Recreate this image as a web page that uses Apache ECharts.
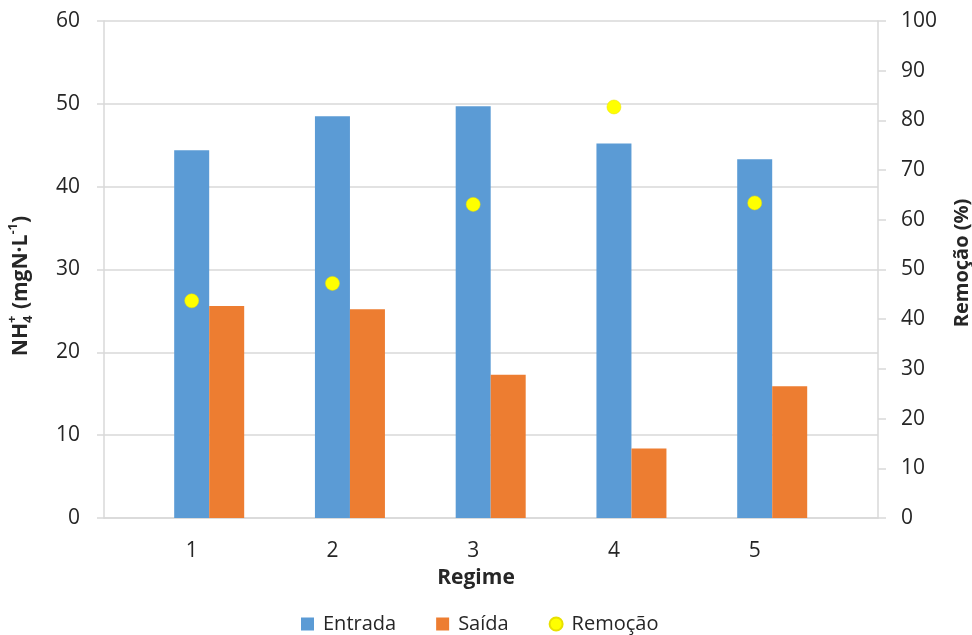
<!DOCTYPE html>
<html>
<head>
<meta charset="utf-8">
<script src="https://cdn.jsdelivr.net/npm/echarts@6/dist/echarts.min.js"></script>
<style>
  html, body { margin: 0; padding: 0; background: #fff; }
  #chart { width: 972px; height: 635px; }
</style>
</head>
<body>
<div id="chart"></div>
<script>
// Ammonium in / out per operating regime, with removal efficiency
const categories = ['1', '2', '3', '4', '5'];
const entrada = [44.4, 48.5, 49.7, 45.2, 43.3];   // mgN·L-1
const saida   = [25.6, 25.2, 17.3, 8.4, 15.9];    // mgN·L-1
const remocao = [43.7, 47.2, 63.1, 82.7, 63.4];   // %
const leftAxis  = { min: 0, max: 60, step: 10 };
const rightAxis = { min: 0, max: 100, step: 10 };

const FONT = '"Open Sans", "DejaVu Sans", sans-serif';
const TEXT = '#262626';
const LINE = '#D9D9D9';

const xs = categories.map(Number);
const pairs = (vals) => xs.map((x, i) => [x, vals[i]]);

// measure helper for the composed y-axis title
const mctx = document.createElement('canvas').getContext('2d');
function textWidth(t, font) { mctx.font = font; return mctx.measureText(t).width; }

function buildLeftTitle() {
  const big = 'bold 21px ' + FONT;
  const small = 'bold 13px ' + FONT;
  const parts = [
    { t: 'NH', f: big, dy: 0 },
    { t: '4', f: small, dy: 7, stack: true },
    { t: '+', f: small, dy: -9 },
    { t: ' (mgN·L', f: big, dy: 0 },
    { t: '-1', f: small, dy: -8 },
    { t: ')', f: big, dy: 0 }
  ];
  // lay pieces out along the baseline; a stacked piece shares its x with the next one
  let cursor = 0;
  const placed = [];
  for (let i = 0; i < parts.length; i++) {
    const p = parts[i];
    const w = textWidth(p.t, p.f);
    placed.push({ p, x: cursor });
    if (p.stack) {
      const n = parts[i + 1];
      const wn = textWidth(n.t, n.f);
      placed.push({ p: n, x: cursor });
      cursor += Math.max(w, wn) + 1;
      i++;
    } else {
      cursor += w;
    }
  }
  const total = cursor;
  return {
    type: 'group',
    x: 21, y: 286,
    rotation: Math.PI / 2,
    children: placed.map(({ p, x }) => ({
      type: 'text',
      x: x - total / 2,
      y: p.dy,
      style: { text: p.t, font: p.f, fill: TEXT, align: 'left', verticalAlign: 'middle' }
    }))
  };
}

const chart = echarts.init(document.getElementById('chart'), null, { renderer: 'canvas' });

chart.setOption({
  animation: false,
  backgroundColor: '#fff',
  grid: { left: 104, right: 94, top: 21, bottom: 117, containLabel: false },
  xAxis: {
    type: 'value',
    min: 0.377,
    max: 5.876,
    axisLine: { show: true, lineStyle: { color: LINE, width: 1.5 } },
    axisTick: { show: false },
    splitLine: { show: false },
    axisLabel: {
      customValues: xs,
      formatter: (v) => categories[xs.indexOf(v)] ?? '',
      fontFamily: FONT, fontSize: 21, color: TEXT, margin: 23
    }
  },
  yAxis: [
    {
      type: 'value',
      position: 'left',
      min: leftAxis.min, max: leftAxis.max, interval: leftAxis.step,
      axisLine: { show: true, lineStyle: { color: LINE, width: 1.5 } },
      axisTick: { show: true, inside: false, length: 7, lineStyle: { color: LINE, width: 1.5 } },
      splitLine: { show: true, lineStyle: { color: LINE, width: 1.5 } },
      axisLabel: { fontFamily: FONT, fontSize: 21, color: TEXT, margin: 24 }
    },
    {
      type: 'value',
      position: 'right',
      min: rightAxis.min, max: rightAxis.max, interval: rightAxis.step,
      axisLine: { show: true, lineStyle: { color: LINE, width: 1.5 } },
      axisTick: { show: true, inside: false, length: 8, lineStyle: { color: LINE, width: 1.5 } },
      splitLine: { show: false },
      axisLabel: { fontFamily: FONT, fontSize: 21, color: TEXT, margin: 23 }
    }
  ],
  legend: {
    left: 296,
    top: 609,
    itemWidth: 13,
    itemHeight: 13,
    itemGap: 40,
    textStyle: { fontFamily: FONT, fontSize: 20, color: TEXT, padding: [0, 0, 0, 4] },
    data: [
      { name: 'Entrada', icon: 'rect' },
      { name: 'Saída', icon: 'rect' },
      { name: 'Remoção', icon: 'circle' }
    ]
  },
  graphic: [
    buildLeftTitle(),
    {
      type: 'text', x: 962, y: 263, rotation: Math.PI / 2,
      style: { text: 'Remoção (%)', font: 'bold 20px ' + FONT, fill: TEXT, align: 'center', verticalAlign: 'middle' }
    },
    {
      type: 'text', x: 476, y: 578,
      style: { text: 'Regime', font: 'bold 21px ' + FONT, fill: TEXT, align: 'center', verticalAlign: 'middle' }
    }
  ],
  series: [
    // empty slot so the inflow bar sits centred on its regime tick
    { type: 'bar', name: '_slot', data: [], barWidth: 35, barGap: '0%', silent: true },
    {
      type: 'bar', name: 'Entrada', data: pairs(entrada),
      barWidth: 35, barGap: '0%',
      itemStyle: { color: '#5B9BD5' }
    },
    {
      type: 'bar', name: 'Saída', data: pairs(saida),
      barWidth: 35, barGap: '0%',
      itemStyle: { color: '#ED7D31' }
    },
    {
      type: 'scatter', name: 'Remoção', yAxisIndex: 1, data: pairs(remocao),
      symbol: 'circle', symbolSize: 14,
      itemStyle: { color: '#FFFF00', borderColor: '#E8E000', borderWidth: 0.5, opacity: 1 },
      z: 5
    }
  ]
});
</script>
</body>
</html>
